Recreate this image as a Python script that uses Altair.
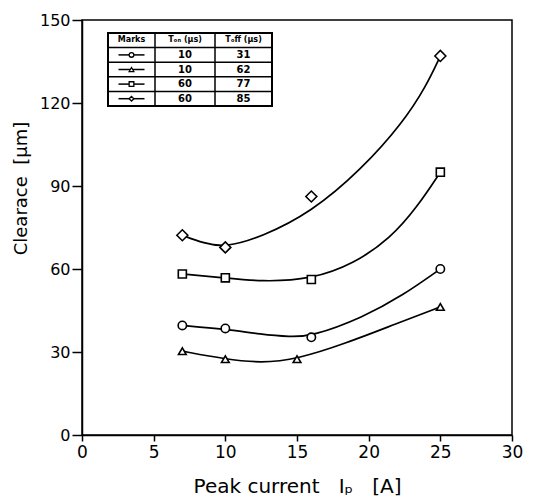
import altair as alt
import pandas as pd

# ---- data ----
series = ["circle", "triangle", "square", "diamond"]
shapes = ["circle", "triangle-up", "square", "diamond"]
marker_sizes = [70, 60, 65, 120]

circle_x = [7, 10, 16, 25]
circle_y = [39.6, 38.5, 35.3, 60.0]
triangle_x = [7, 10, 15, 25]
triangle_y = [30.3, 27.4, 27.4, 46.3]
square_x = [7, 10, 16, 25]
square_y = [58.2, 56.8, 56.2, 95.0]
diamond_x = [7, 10, 16, 25]
diamond_y = [72.2, 67.8, 86.2, 137.0]

# smooth (hand-fitted) curves
circle_cx = [7, 10, 12.5, 14.5, 16, 19.6, 22.4, 25]
circle_cy = [39.6, 38.3, 36.4, 35.5, 35.6, 42.5, 50.5, 60.0]
triangle_cx = [7, 10, 12.5, 15, 18.4, 21.9, 25]
triangle_cy = [30.3, 27.4, 26.0, 27.4, 33.1, 40.2, 46.3]
square_cx = [7, 10, 12.5, 16, 19, 21.5, 23.4, 25]
square_cy = [58.2, 56.8, 55.4, 56.2, 62.0, 71.0, 82.5, 95.0]
diamond_cx = [7, 8.5, 10, 12.5, 16, 19.5, 22.4, 24, 25]
diamond_cy = [72.2, 69.3, 67.8, 71.5, 80.5, 96.0, 113.0, 126.0, 137.0]

# legend table contents
table_header = ["Marks", "Tₒₙ (μs)", "Tₒff (μs)"]
ton_values = ["10", "10", "60", "60"]
toff_values = ["31", "62", "77", "85"]

x_ticks = [0, 5, 10, 15, 20, 25, 30]
y_ticks = [0, 30, 60, 90, 120, 150]

NB = "\u00a0"
x_title = "Peak" + NB + "current" + NB * 3 + "Iₚ" + NB * 3 + "[A]"
y_title = "Clearace" + NB * 2 + "[μm]"

# ---- tables ----
pts_rows = []
for s, xs, ys in [("circle", circle_x, circle_y), ("triangle", triangle_x, triangle_y),
                  ("square", square_x, square_y), ("diamond", diamond_x, diamond_y)]:
    for a, b in zip(xs, ys):
        pts_rows.append({"series": s, "x": a, "y": b})
pts = pd.DataFrame(pts_rows)

cur_rows = []
for s, xs, ys in [("circle", circle_cx, circle_cy), ("triangle", triangle_cx, triangle_cy),
                  ("square", square_cx, square_cy), ("diamond", diamond_cx, diamond_cy)]:
    for i, (a, b) in enumerate(zip(xs, ys)):
        cur_rows.append({"series": s, "x": a, "y": b, "i": i})
cur = pd.DataFrame(cur_rows)

W, H = 430, 415
xscale = alt.Scale(domain=[0, 30], nice=False)
yscale = alt.Scale(domain=[0, 150], nice=False)

xenc = alt.X("x:Q", scale=xscale,
             axis=alt.Axis(values=x_ticks, title=x_title, tickSize=6,
                           labelPadding=3, titlePadding=16, labelFontSize=17, titleFontSize=20))
yenc = alt.Y("y:Q", scale=yscale,
             axis=alt.Axis(values=y_ticks, title=y_title, tickSize=10,
                           labelPadding=2, labelFontSize=16, titleFontSize=18,
                           titleX=-52, titleY=168))

lines = alt.Chart(cur).mark_line(color="black", strokeWidth=1.7, interpolate="basis").encode(
    x=xenc, y=yenc, detail="series:N", order="i:Q")

point_layers = []
for s, shp, sz in zip(series, shapes, marker_sizes):
    point_layers.append(
        alt.Chart(pts).transform_filter(alt.datum.series == s)
        .mark_point(shape=shp, size=sz, filled=True, fill="white", stroke="black",
                    strokeWidth=1.6, opacity=1)
        .encode(x=xenc, y=yenc)
    )

# ---- legend table (pixel layout inside the plot area) ----
tx0, tx1 = 26, 190
col_b = [73, 133]
ty0 = 13
rh = 14.6
ty1 = ty0 + rh * 5

box = pd.DataFrame([{"x": tx0, "x2": tx1, "y": ty0, "y2": ty1}])
table_box = alt.Chart(box).mark_rect(fill="white", stroke="black", strokeWidth=2).encode(
    x=alt.X("x:Q", scale=None, axis=None), x2="x2:Q",
    y=alt.Y("y:Q", scale=None, axis=None), y2="y2:Q")

hl = pd.DataFrame([{"x": tx0, "x2": tx1, "y": ty0 + rh * (k + 1)} for k in range(4)])
h_rules = alt.Chart(hl).mark_rule(color="black", strokeWidth=1.5).encode(
    x=alt.X("x:Q", scale=None, axis=None), x2="x2:Q", y=alt.Y("y:Q", scale=None, axis=None))
vl = pd.DataFrame([{"x": c, "y": ty0, "y2": ty1} for c in col_b])
v_rules = alt.Chart(vl).mark_rule(color="black", strokeWidth=1.5).encode(
    x=alt.X("x:Q", scale=None, axis=None), y=alt.Y("y:Q", scale=None, axis=None), y2="y2:Q")

col_centers = [(tx0 + col_b[0]) / 2, (col_b[0] + col_b[1]) / 2, (col_b[1] + tx1) / 2]
txt_rows = []
for j, t in enumerate(table_header):
    txt_rows.append({"x": col_centers[j], "y": ty0 + rh * 0.5, "t": t, "sz": 8})
for k in range(4):
    txt_rows.append({"x": col_centers[1], "y": ty0 + rh * (k + 1.5), "t": ton_values[k], "sz": 10})
    txt_rows.append({"x": col_centers[2], "y": ty0 + rh * (k + 1.5), "t": toff_values[k], "sz": 10})
txt = pd.DataFrame(txt_rows)
table_text = alt.Chart(txt).mark_text(fontWeight="bold", font="DejaVu Sans", color="black",
                                      baseline="middle", align="center").encode(
    x=alt.X("x:Q", scale=None, axis=None), y=alt.Y("y:Q", scale=None, axis=None),
    text="t:N", size=alt.Size("sz:Q", scale=None, legend=None))

seg = pd.DataFrame([{"x": col_centers[0] - 13, "x2": col_centers[0] + 13,
                     "y": ty0 + rh * (k + 1.5)} for k in range(4)])
seg_rules = alt.Chart(seg).mark_rule(color="black", strokeWidth=1.5).encode(
    x=alt.X("x:Q", scale=None, axis=None), x2="x2:Q", y=alt.Y("y:Q", scale=None, axis=None))
sym = pd.DataFrame([{"x": col_centers[0], "y": ty0 + rh * (k + 1.5), "series": series[k]}
                    for k in range(4)])
seg_syms = alt.Chart(sym).mark_point(filled=True, fill="white", stroke="black", strokeWidth=1.3,
                                     size=22, opacity=1).encode(
    x=alt.X("x:Q", scale=None, axis=None), y=alt.Y("y:Q", scale=None, axis=None),
    shape=alt.Shape("series:N", scale=alt.Scale(domain=series, range=shapes), legend=None))

chart = alt.layer(lines, *point_layers, table_box, h_rules, v_rules, table_text, seg_rules, seg_syms).properties(
    width=W, height=H,
    autosize=alt.AutoSizeParams(type="none"),
    padding={"left": 74, "top": 12, "right": 15, "bottom": 62},
    background="white",
).configure_view(stroke="black", strokeWidth=1.5).configure_axis(
    grid=False, domainColor="black", domainWidth=1.5, tickColor="black", tickWidth=1.5,
    labelColor="black", titleColor="black", labelFont="DejaVu Sans", titleFont="DejaVu Sans",
    titleFontWeight="normal", labelFlush=False,
)

chart.save("out.html", embed_options={"renderer": "svg", "actions": False})
